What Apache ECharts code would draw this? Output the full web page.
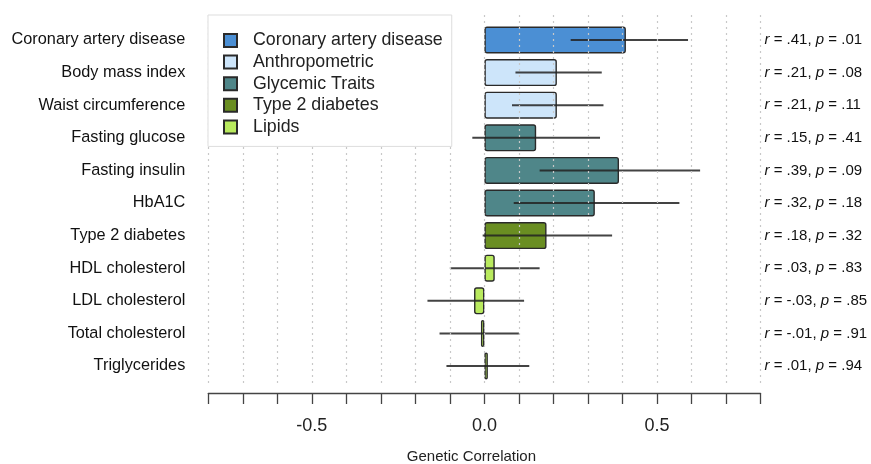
<!DOCTYPE html>
<html>
<head>
<meta charset="utf-8">
<script src="https://cdn.jsdelivr.net/npm/echarts@6/dist/echarts.min.js"></script>
<style>html,body{margin:0;padding:0;background:#fff}#c{width:871px;height:464px}</style>
</head>
<body>
<div id="c"></div>
<script>
const categories = ['Coronary artery disease','Body mass index','Waist circumference','Fasting glucose','Fasting insulin','HbA1C','Type 2 diabetes','HDL cholesterol','LDL cholesterol','Total cholesterol','Triglycerides'];
const rValues = [0.41, 0.21, 0.21, 0.15, 0.39, 0.32, 0.18, 0.03, -0.03, -0.01, 0.01];
const pValues = [0.01, 0.08, 0.11, 0.41, 0.09, 0.18, 0.32, 0.83, 0.85, 0.91, 0.94];
const ciLow  = [0.25, 0.09, 0.08, -0.035, 0.16, 0.085, -0.005, -0.10, -0.165, -0.13, -0.11];
const ciHigh = [0.59, 0.34, 0.345, 0.335, 0.625, 0.565, 0.37, 0.16, 0.115, 0.10, 0.13];
const traitGroup = ['Coronary artery disease','Anthropometric','Anthropometric','Glycemic Traits','Glycemic Traits','Glycemic Traits','Type 2 diabetes','Lipids','Lipids','Lipids','Lipids'];
const groups = ['Coronary artery disease','Anthropometric','Glycemic Traits','Type 2 diabetes','Lipids'];
const groupColors = ['#4b8fd4', '#cde5fa', '#4f8689', '#6a8e22', '#b9ea5e'];
const xTickLabels = [-0.5, 0.0, 0.5];

const FONT = '"Liberation Sans", Arial, Helvetica, sans-serif';
const fmt = v => (v < 0 ? '-' : '') + Math.abs(v).toFixed(2).replace(/^0/, '');

const chart = echarts.init(document.getElementById('c'));

const barSeries = groups.map((g, gi) => ({
  name: g,
  type: 'bar',
  stack: 'all',
  xAxisIndex: 1,
  yAxisIndex: 1,
  barWidth: 27,
  itemStyle: { color: groupColors[gi], borderColor: '#2a2a2a', borderWidth: 1.4, borderRadius: 2 },
  data: rValues.map((v, i) => traitGroup[i] === g ? v : '-'),
  z: 2
}));

const errData = categories.map((c, i) => [ciLow[i], ciHigh[i], i]);

const gridBase = { left: 208.3, right: 110.5, outerBoundsMode: 'none', containLabel: false };

const option = {
  animation: false,
  textStyle: { fontFamily: FONT },
  legend: {
    data: groups,
    orient: 'vertical',
    left: 208,
    top: 15,
    backgroundColor: '#fff',
    borderColor: '#ddd',
    borderWidth: 1,
    borderRadius: 0,
    padding: [16.5, 9, 10.5, 15],
    itemWidth: 13,
    itemHeight: 13,
    itemGap: 3.6,
    icon: 'rect',
    textStyle: { fontSize: 17.8, lineHeight: 18, color: '#222', fontFamily: FONT, padding: [0, 0, 0, 11] },
    z: 4
  },
  grid: [
    Object.assign({ top: 15, bottom: 79 }, gridBase),
    Object.assign({ top: 23.7, bottom: 81.7 }, gridBase),
    Object.assign({ top: 15, bottom: 71 }, gridBase)
  ],
  xAxis: [
    {
      type: 'value', gridIndex: 0, min: -0.8, max: 0.8, interval: 0.1, z: 3,
      axisLine: { show: false }, axisTick: { show: false }, axisLabel: { show: false },
      splitLine: { show: true, lineStyle: { type: [2, 4], color: '#c8c8c8', width: 1.2 } }
    },
    {
      type: 'value', gridIndex: 1, min: -0.8, max: 0.8, show: false
    },
    {
      type: 'value', gridIndex: 2, min: -0.8, max: 0.8, interval: 0.1, position: 'bottom',
      axisLine: { show: true, lineStyle: { color: '#444', width: 1.3 } },
      axisTick: { show: true, length: 11, lineStyle: { color: '#444', width: 1.3 } },
      axisLabel: {
        fontSize: 18, color: '#222', margin: 24, fontFamily: FONT,
        formatter: v => {
          const m = xTickLabels.find(t => Math.abs(t - v) < 1e-6);
          return m === undefined ? '' : m.toFixed(1);
        }
      },
      splitLine: { show: false },
      name: 'Genetic Correlation', nameLocation: 'middle', nameGap: 56,
      nameTextStyle: { fontSize: 15, color: '#222', fontFamily: FONT, padding: [0, 26, 0, 0] }
    }
  ],
  yAxis: [
    { type: 'value', gridIndex: 0, show: false },
    {
      type: 'category', gridIndex: 1, data: categories, inverse: true, position: 'left',
      axisLine: { show: false }, axisTick: { show: false }, splitLine: { show: false },
      axisLabel: { fontSize: 16.3, color: '#111', margin: 23, fontFamily: FONT }
    },
    {
      type: 'category', gridIndex: 1, data: categories, inverse: true, position: 'right',
      axisLine: { show: false }, axisTick: { show: false }, splitLine: { show: false },
      axisLabel: {
        margin: 4, align: 'left', fontSize: 15, color: '#111', fontFamily: FONT,
        formatter: (val, idx) => `{i|r} = ${fmt(rValues[idx])}, {i|p} = ${fmt(pValues[idx])}`,
        rich: { i: { fontStyle: 'italic', fontSize: 15, color: '#111', fontFamily: FONT } }
      }
    },
    { type: 'value', gridIndex: 2, show: false }
  ],
  series: [
    ...barSeries,
    {
      type: 'custom',
      name: 'CI',
      xAxisIndex: 1,
      yAxisIndex: 1,
      z: 2.5,
      encode: { x: [0, 1], y: 2 },
      data: errData,
      renderItem: (params, api) => {
        const a = api.coord([api.value(0), api.value(2)]);
        const b = api.coord([api.value(1), api.value(2)]);
        return {
          type: 'line',
          shape: { x1: a[0], y1: a[1], x2: b[0], y2: b[1] },
          style: { stroke: '#222', lineWidth: 2, opacity: 0.85 }
        };
      }
    }
  ]
};
chart.setOption(option);
</script>
</body>
</html>
